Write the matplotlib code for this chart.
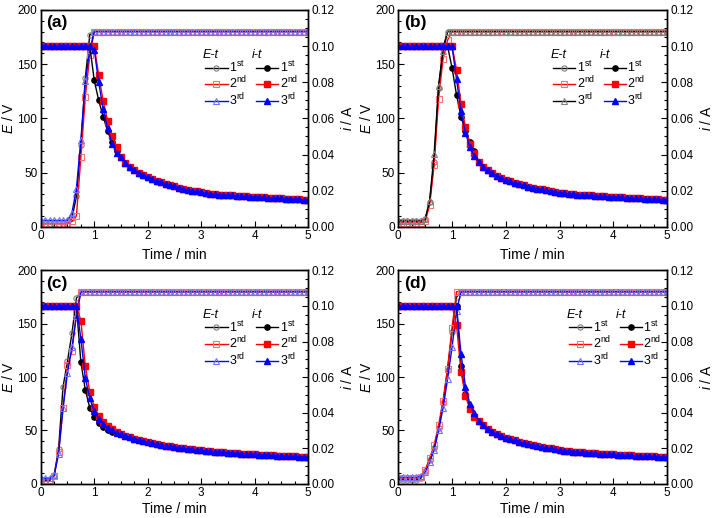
import numpy as np
import matplotlib
matplotlib.use('Agg')
import matplotlib.pyplot as plt
from matplotlib.ticker import MultipleLocator, FormatStrFormatter

plt.rcParams['font.family'] = ['Liberation Sans', 'DejaVu Sans']
plt.rcParams['mathtext.fontset'] = 'custom'
plt.rcParams['mathtext.rm'] = 'Liberation Sans'
plt.rcParams['mathtext.it'] = 'Liberation Sans:italic'

### DATA ###

# sampling every 5 s over 5 min
time_s = list(range(0, 305, 5))

# E-t curves (V)
E_a1 = [3]*7 + [8, 28, 75, 137, 177] + [180]*49
E_a2 = [3]*7 + [5, 10, 64, 120, 158] + [180]*49
E_a3 = [6]*7 + [13, 35, 80, 134, 163] + [180]*49

E_b1 = [5]*6 + [7, 23, 60, 128, 165] + [180]*50
E_b2 = [4]*6 + [5, 20, 57, 118, 155, 172] + [180]*49
E_b3 = [5.5]*6 + [7, 24, 67, 130, 162] + [180]*50

E_c1 = [3]*3 + [8, 33, 91, 115, 141, 174] + [180]*52
E_c2 = [4]*3 + [7, 30, 71, 111, 124, 160] + [180]*52
E_c3 = [5]*3 + [8, 28, 71, 104, 128, 157] + [180]*52

E_d1 = [4]*5 + [5, 12, 22, 34, 52, 76, 107, 142, 175] + [180]*47
E_d2 = [5]*5 + [6, 13, 24, 36, 55, 78, 108, 146, 180] + [180]*47
E_d3 = [6]*5 + [7, 11, 20, 32, 50, 71, 98, 128, 162] + [180]*47

# i-t curves (A): head (0-1.42 min), panel middle part (1.5-3 min), common tail (3.08-5 min)
i_tail = [0.0186, 0.0184, 0.0181, 0.0179, 0.0178, 0.0176, 0.0174, 0.0172,
          0.0170, 0.0169, 0.0167, 0.0166, 0.0164, 0.0163, 0.0161, 0.0160,
          0.0158, 0.0157, 0.0156, 0.0155, 0.0154, 0.0152, 0.0151, 0.0150]

i_mid_a = [0.0384, 0.0354, 0.0333, 0.0315, 0.0300, 0.0288, 0.0276, 0.0265, 0.0256, 0.0247,
           0.0239, 0.0231, 0.0224, 0.0217, 0.0211, 0.0206, 0.0200, 0.0196, 0.0191]
i_mid_b = [0.0360, 0.0333, 0.0312, 0.0296, 0.0282, 0.0270, 0.0260, 0.0251, 0.0242, 0.0235,
           0.0229, 0.0223, 0.0217, 0.0212, 0.0207, 0.0202, 0.0198, 0.0194, 0.0190]
i_mid_c = [0.0279, 0.0270, 0.0262, 0.0254, 0.0247, 0.0240, 0.0234, 0.0229, 0.0224, 0.0219,
           0.0215, 0.0211, 0.0207, 0.0203, 0.0200, 0.0197, 0.0194, 0.0191, 0.0188]
i_mid_d = [0.0354, 0.0330, 0.0309, 0.0292, 0.0279, 0.0269, 0.0260, 0.0251, 0.0244, 0.0236,
           0.0230, 0.0224, 0.0218, 0.0212, 0.0208, 0.0203, 0.0199, 0.0194, 0.0190]

i_a1 = [0.1]*12 + [0.081, 0.070, 0.061, 0.053, 0.047, 0.042] + i_mid_a + i_tail
i_a2 = [0.1]*13 + [0.084, 0.0696, 0.0588, 0.0504, 0.0444] + i_mid_a + i_tail
i_a3 = [0.1]*12 + [0.098, 0.080, 0.065, 0.0546, 0.046, 0.041] + i_mid_a + i_tail

i_b1 = [0.1]*12 + [0.088, 0.073, 0.061, 0.053, 0.047, 0.042] + i_mid_b + i_tail
i_b2 = [0.1]*13 + [0.087, 0.068, 0.055, 0.046, 0.041] + i_mid_b + i_tail
i_b3 = [0.1]*13 + [0.0816, 0.064, 0.052, 0.044, 0.039] + i_mid_b + i_tail

i_c1 = [0.1]*9 + [0.0684, 0.0528, 0.0426, 0.0378, 0.0342, 0.0318, 0.0303, 0.0291, 0.0284] + i_mid_c + i_tail
i_c2 = [0.1]*9 + [0.0918, 0.066, 0.0516, 0.0432, 0.0384, 0.0348, 0.0324, 0.0306, 0.0291] + i_mid_c + i_tail
i_c3 = [0.1]*9 + [0.0816, 0.0594, 0.048, 0.0408, 0.0366, 0.0336, 0.0315, 0.030, 0.0288] + i_mid_c + i_tail

i_d1 = [0.1]*14 + [0.066, 0.0504, 0.0432, 0.0384] + i_mid_d + i_tail
i_d2 = [0.1]*13 + [0.0894, 0.063, 0.0492, 0.042, 0.0378] + i_mid_d + i_tail
i_d3 = [0.1]*14 + [0.0732, 0.0546, 0.0447, 0.0396] + i_mid_d + i_tail

panels = [
    ('(a)', [E_a1, E_a2, E_a3], [i_a1, i_a2, i_a3]),
    ('(b)', [E_b1, E_b2, E_b3], [i_b1, i_b2, i_b3]),
    ('(c)', [E_c1, E_c2, E_c3], [i_c1, i_c2, i_c3]),
    ('(d)', [E_d1, E_d2, E_d3], [i_d1, i_d2, i_d3]),
]
run_labels = ['1$^{\\rm st}$', '2$^{\\rm nd}$', '3$^{\\rm rd}$']

### PLOTTING ###

t = np.array(time_s) / 60.0

fig = plt.figure(figsize=(7.15, 5.18), dpi=100)
boxes = [[0.057, 0.562, 0.374, 0.419],
         [0.557, 0.562, 0.376, 0.419],
         [0.057, 0.066, 0.374, 0.412],
         [0.557, 0.066, 0.376, 0.412]]
# legend x position (axes fraction) per panel
leg_x = [0.615, 0.575, 0.615, 0.635]

markers = ['o', 's', '^']
line_cols = ['black', 'red', 'blue']
E_edge = ['#808080', '#ff7070', '#7070ff']

for p, (tag, E_list, i_list) in enumerate(panels):
    ax = fig.add_axes(boxes[p])
    ax2 = ax.twinx()

    e_handles, i_handles = [], []
    for k in range(3):
        lc, ec = line_cols[k], E_edge[k]
        if tag == '(b)' and k == 2:
            lc, ec = 'black', '#808080'
        h, = ax.plot(t, E_list[k], color=lc, lw=1, marker=markers[k], ms=3.8,
                     mfc='none', mec=ec, mew=0.8)
        e_handles.append(h)
    for k in range(3):
        h, = ax2.plot(t, i_list[k], color=line_cols[k], lw=1, marker=markers[k], ms=3.8,
                      mfc=line_cols[k], mec=line_cols[k])
        i_handles.append(h)

    ax.set_xlim(0, 5)
    ax.set_ylim(0, 200)
    ax2.set_ylim(0, 0.12)
    ax.xaxis.set_major_locator(MultipleLocator(1))
    ax.xaxis.set_minor_locator(MultipleLocator(0.25))
    ax.yaxis.set_major_locator(MultipleLocator(50))
    ax.yaxis.set_minor_locator(MultipleLocator(10))
    ax2.yaxis.set_major_locator(MultipleLocator(0.02))
    ax2.yaxis.set_minor_locator(MultipleLocator(0.005))
    ax2.yaxis.set_major_formatter(FormatStrFormatter('%.2f'))
    for a in (ax, ax2):
        a.tick_params(which='both', direction='in', labelsize=8.5, width=0.8, pad=2.5)
        a.tick_params(which='major', length=4)
        a.tick_params(which='minor', length=2)
        for s in a.spines.values():
            s.set_linewidth(1)

    ax.set_xlabel('Time / min', fontsize=10, labelpad=4 if p < 2 else 2)
    ax.set_ylabel('$E$ / V', fontsize=10, labelpad=1)
    ax2.set_ylabel('$i$ / A', fontsize=10, labelpad=4)

    ax2.text(0.02, 0.975, tag, transform=ax2.transAxes, fontsize=12.5,
             fontweight='bold', va='top', ha='left')

    lx = leg_x[p]
    ax2.text(lx - 0.01, 0.79, 'E-t', style='italic', fontsize=9,
             transform=ax2.transAxes, va='center', ha='left')
    ax2.text(lx + 0.175, 0.79, 'i-t', style='italic', fontsize=9,
             transform=ax2.transAxes, va='center', ha='left')
    ax2.legend(e_handles + i_handles, run_labels + run_labels, ncol=2,
               loc='upper left', bbox_to_anchor=(lx, 0.77), frameon=False,
               fontsize=9, handlelength=1.8, handletextpad=0.1,
               columnspacing=0.7, labelspacing=0.0, borderpad=0,
               borderaxespad=0)

fig.savefig('out.png', dpi=100)
